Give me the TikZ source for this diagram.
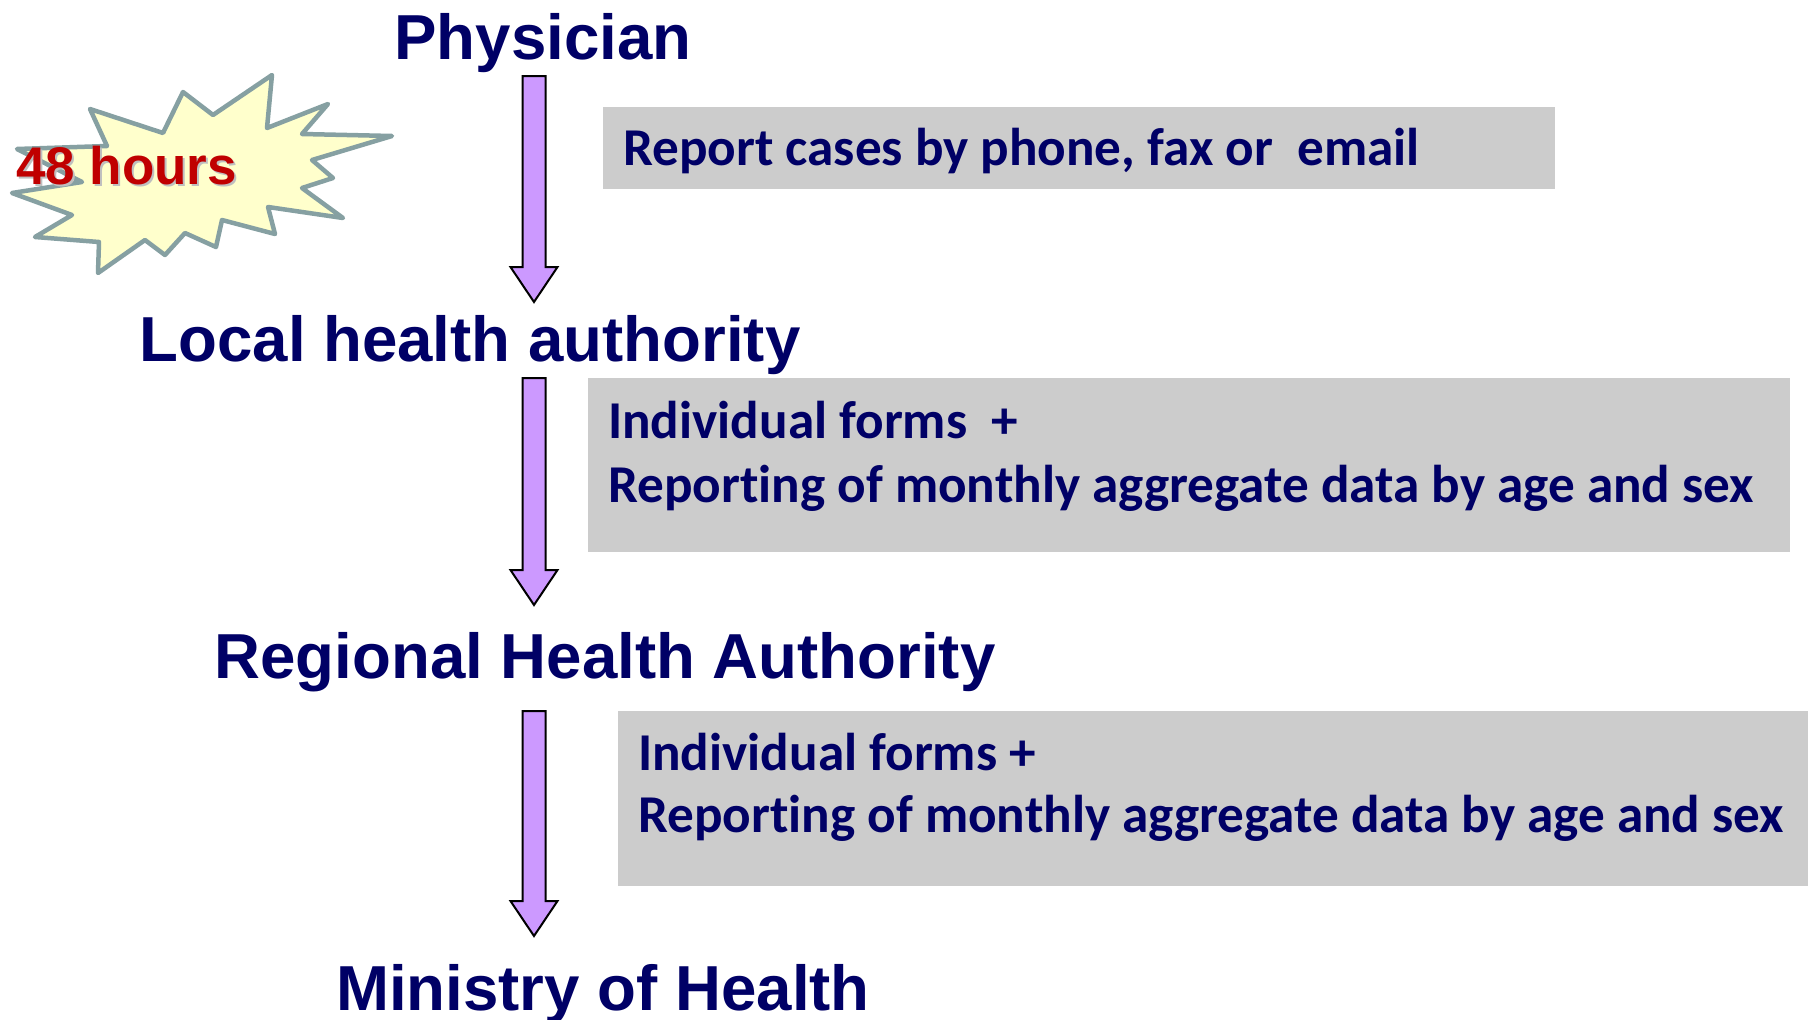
\documentclass[tikz,border=0pt]{standalone}
\usepackage{fontspec}
\newfontfamily\headfont{Liberation Sans}
\newfontfamily\boxfont[Ligatures=NoCommon,RawFeature={-liga;-dlig}]{Carlito}
\definecolor{navy}{HTML}{000066}
\definecolor{boxgray}{HTML}{CCCCCC}
\definecolor{arrowfill}{HTML}{CC99FF}
\definecolor{burstfill}{HTML}{FFFFCC}
\definecolor{burstline}{HTML}{86A0A2}
\definecolor{hourred}{HTML}{C00000}
\tikzset{
  heading/.style={anchor=base, inner sep=0pt, text=navy, font=\headfont\bfseries\fontsize{63.6}{64}\selectfont},
  graybox/.style={fill=boxgray, draw=none, anchor=north west, inner sep=0pt},
  boxtext/.style={anchor=base west, inner sep=0pt, text=navy, font=\boxfont\bfseries\fontsize{53.2}{54}\selectfont},
  fatarrow/.style={fill=arrowfill, draw=black, line width=2pt, line join=miter},
  burst/.style={fill=burstfill, draw=burstline, line width=4.5pt, line join=round},
}
\newcommand\fatarrowpath[3]{%
  \draw[fatarrow] (#1-11.5,#2) -- (#1+11.5,#2) -- (#1+11.5,#3-35) -- (#1+23.5,#3-35)
    -- (#1,#3) -- (#1-23.5,#3-35) -- (#1-11.5,#3-35) -- cycle;}
\begin{document}
\begin{tikzpicture}[x=1pt,y=-1pt]
\useasboundingbox (0,0) rectangle (1808,1020);
\fill[white] (0,0) rectangle (1808,1020);

% starburst
\draw[burst] (272,75) -- (267,128) -- (328,104) -- (302,134) -- (392,136) -- (312,160)
  -- (333,178) -- (302,188) -- (343,218) -- (268,207) -- (275,234) -- (222,220)
  -- (216,247) -- (185,233) -- (165,255) -- (145,240) -- (98,273) -- (99,242)
  -- (35,237) -- (72,215) -- (12,193) -- (82,182) -- (17,149) -- (107,146)
  -- (90,109) -- (163,133) -- (183,92) -- (213,115) -- cycle;
\node[anchor=base west, inner sep=0pt, text=black!25, font=\headfont\bfseries\fontsize{53}{53}\selectfont] (hrsshadow) at (18,186) {48 hours};
\node[anchor=base west, inner sep=0pt, text=hourred, font=\headfont\bfseries\fontsize{53}{53}\selectfont] (hrs) at (16,184) {48 hours};

% headings
\node[heading] (phys) at (543,59) {Physician};
\node[heading] (local) at (470,361) {Local health authority};
\node[heading] (region) at (605,678) {Regional Health Authority};
\node[heading] (ministry) at (603,1010) {Ministry of Health};

% arrows
\fatarrowpath{534}{76}{302}
\fatarrowpath{534}{378}{605}
\fatarrowpath{534}{711}{936}

% gray boxes
\node[graybox, minimum width=952pt, minimum height=82pt] (b1) at (603,107) {};
\node[graybox, minimum width=1202pt, minimum height=174pt] (b2) at (588,378) {};
\node[graybox, minimum width=1190pt, minimum height=175pt] (b3) at (618,711) {};

\node[boxtext] (t1) at (623,165) {Report cases by phone, fax or~~email};
\node[boxtext] (t2a) at (608,438) {Individual forms~~+};
\node[boxtext] (t2b) at (608,502) {Reporting of monthly aggregate data by age and sex};
\node[boxtext] (t3a) at (638,770) {Individual forms +};
\node[boxtext] (t3b) at (638,832) {Reporting of monthly aggregate data by age and sex};
\end{tikzpicture}
\end{document}
